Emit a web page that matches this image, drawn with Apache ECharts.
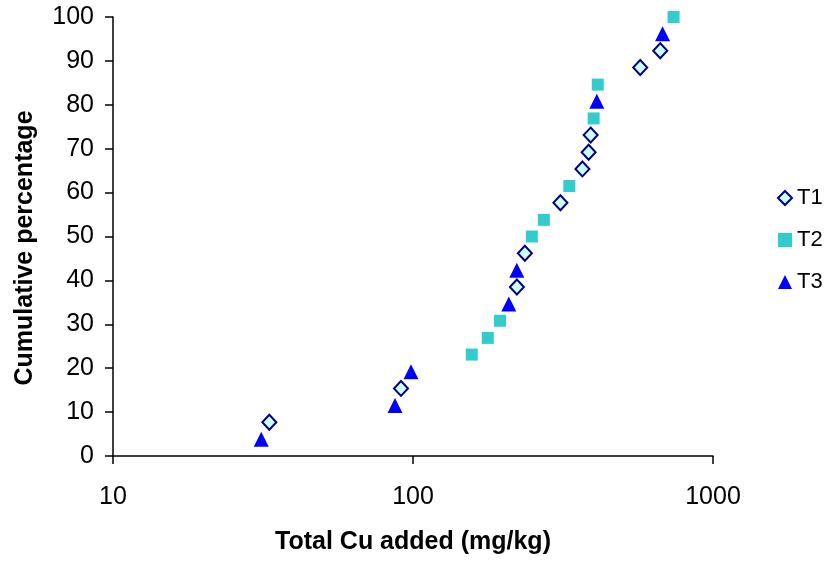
<!DOCTYPE html>
<html>
<head>
<meta charset="utf-8">
<script src="https://cdn.jsdelivr.net/npm/echarts@6/dist/echarts.min.js"></script>
<style>
html,body{margin:0;padding:0;background:#fff;}
#chart{width:829px;height:565px;}
</style>
</head>
<body>
<div id="chart"></div>
<script>
// Total Cu added (mg/kg) vs cumulative percentage
var t1X = [33.2, 91.2, 222, 236, 310, 367, 385, 391, 572, 667];
var t1Y = [7.7, 15.4, 38.5, 46.2, 57.7, 65.4, 69.2, 73.1, 88.5, 92.3];
var t2X = [157, 177.5, 195, 249, 273, 332, 400, 413, 739];
var t2Y = [23.1, 26.9, 30.8, 50.0, 53.8, 61.5, 76.9, 84.6, 100];
var t3X = [31.2, 87.1, 98.5, 208.6, 221.8, 410, 679];
var t3Y = [3.8, 11.5, 19.2, 34.6, 42.3, 80.8, 96.2];
var seriesNames = ['T1', 'T2', 'T3'];
var yTicks = [0, 10, 20, 30, 40, 50, 60, 70, 80, 90, 100];

function pairs(xs, ys) { return xs.map(function (x, i) { return [x, ys[i]]; }); }

var FONT = '"Liberation Sans", Arial, sans-serif';
var chart = echarts.init(document.getElementById('chart'), null, {renderer: 'canvas'});
chart.setOption({
  animation: false,
  backgroundColor: '#ffffff',
  grid: {left: 113, right: 116, top: 17, bottom: 109, containLabel: false},
  xAxis: {
    type: 'log', logBase: 10, min: 10, max: 1000,
    name: 'Total Cu added (mg/kg)', nameLocation: 'middle', nameGap: 74,
    nameTextStyle: {fontFamily: FONT, fontSize: 25, fontWeight: 'bold', color: '#000'},
    axisLine: {show: true, lineStyle: {color: '#000', width: 1.5}},
    axisTick: {show: true, inside: false, length: 8, lineStyle: {color: '#000', width: 1.5}},
    minorTick: {show: false},
    splitLine: {show: false},
    axisLabel: {margin: 29, fontFamily: FONT, fontSize: 25, color: '#000',
      formatter: function (v) { return String(Math.round(v)); }}
  },
  yAxis: {
    type: 'value', min: yTicks[0], max: yTicks[yTicks.length - 1], interval: 10,
    axisLine: {show: true, lineStyle: {color: '#000', width: 1.5}},
    axisTick: {show: true, inside: false, length: 8, lineStyle: {color: '#000', width: 1.5}},
    splitLine: {show: false},
    axisLabel: {margin: 19, fontFamily: FONT, fontSize: 25, color: '#000'}
  },
  graphic: [{
    type: 'text',
    x: 25, y: 248, rotation: Math.PI / 2,
    style: {text: 'Cumulative percentage', font: 'bold 25px ' + FONT, fill: '#000', align: 'center', verticalAlign: 'middle'}
  }],
  legend: {
    orient: 'vertical', left: 772, top: 182,
    itemWidth: 14, itemHeight: 14, itemGap: 20,
    textStyle: {fontFamily: FONT, fontSize: 22, color: '#000'},
    data: seriesNames
  },
  series: [
    {name: seriesNames[0], type: 'scatter', data: pairs(t1X, t1Y), symbol: 'diamond', symbolSize: [14, 15],
     itemStyle: {color: '#CCFFFF', borderColor: '#000080', borderWidth: 2, opacity: 1}, z: 3},
    {name: seriesNames[1], type: 'scatter', data: pairs(t2X, t2Y), symbol: 'rect', symbolSize: 12,
     itemStyle: {color: '#33CCCC', opacity: 1}, z: 4},
    {name: seriesNames[2], type: 'scatter', data: pairs(t3X, t3Y), symbol: 'triangle', symbolSize: 15,
     itemStyle: {color: '#0000FF', opacity: 1}, z: 5}
  ]
});
</script>
</body>
</html>
